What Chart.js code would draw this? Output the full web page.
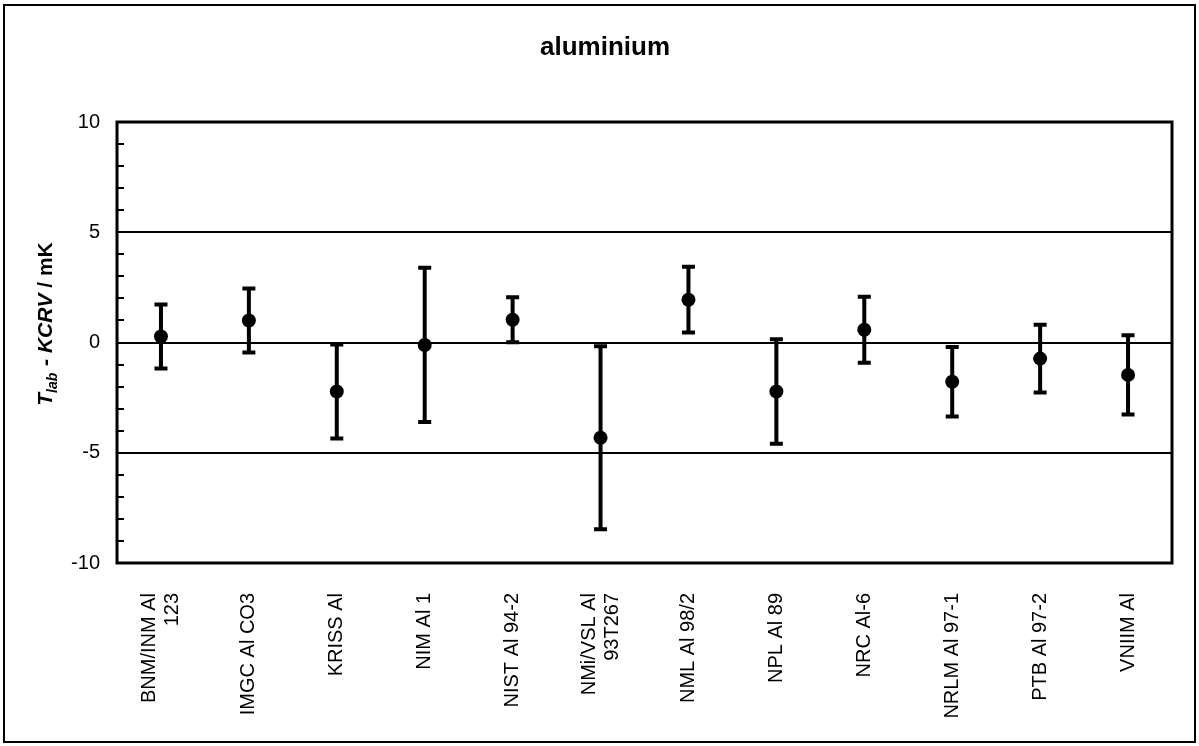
<!DOCTYPE html>
<html>
<head>
<meta charset="utf-8">
<script src="https://cdn.jsdelivr.net/npm/chart.js@4.4.1/dist/chart.umd.min.js"></script>
<style>
  html, body { margin: 0; padding: 0; background: #fff; }
  #wrap { width: 1199px; height: 746px; position: relative; }
</style>
</head>
<body>
<div id="wrap"><canvas id="c" width="1199" height="746"></canvas></div>
<script>
// ---- data ----
const chartTitle = 'aluminium';
const labs = [
  ['BNM/INM Al', '123'], 'IMGC Al CO3', 'KRISS Al', 'NIM Al 1', 'NIST Al 94-2',
  ['NMi/VSL Al', '93T267'], 'NML Al 98/2', 'NPL Al 89', 'NRC Al-6',
  'NRLM Al 97-1', 'PTB Al 97-2', 'VNIIM Al'
];
const diffs = [0.27, 1.0, -2.22, -0.11, 1.03, -4.32, 1.94, -2.22, 0.58, -1.78, -0.73, -1.47];
const uncert = [1.45, 1.45, 2.13, 3.5, 1.02, 4.15, 1.49, 2.37, 1.5, 1.58, 1.54, 1.8];
const yTickValues = [-10, -5, 0, 5, 10];

const FONT = '"Liberation Sans", Arial, sans-serif';

const framePlugin = {
  id: 'frame',
  beforeDatasetsDraw(chart) {
    const ctx = chart.ctx, ys = chart.scales.y, xs = chart.scales.x;
    ctx.save();
    ctx.strokeStyle = '#000';
    ctx.lineWidth = 4;
    ctx.lineCap = 'butt';
    for (let i = 0; i < diffs.length; i++) {
      const x = xs.getPixelForValue(i);
      const yt = ys.getPixelForValue(diffs[i] + uncert[i]);
      const yb = ys.getPixelForValue(diffs[i] - uncert[i]);
      ctx.beginPath();
      ctx.moveTo(x, yt); ctx.lineTo(x, yb);
      ctx.moveTo(x - 6.5, yt); ctx.lineTo(x + 6.5, yt);
      ctx.moveTo(x - 6.5, yb); ctx.lineTo(x + 6.5, yb);
      ctx.stroke();
    }
    ctx.restore();
  },
  afterDraw(chart) {
    const ctx = chart.ctx, a = chart.chartArea, ys = chart.scales.y, xs = chart.scales.x;
    ctx.save();
    ctx.strokeStyle = '#000';
    ctx.lineWidth = 2;
    for (let v = ys.min; v <= ys.max; v += 1) {
      const y = Math.round(ys.getPixelForValue(v));
      ctx.beginPath();
      ctx.moveTo(a.left, y); ctx.lineTo(a.left + 7, y);
      ctx.stroke();
    }
    ctx.lineWidth = 3;
    ctx.strokeRect(a.left, a.top, a.right - a.left, a.bottom - a.top);
    ctx.lineWidth = 2;
    ctx.strokeRect(4, 5, 1191, 737);
    ctx.fillStyle = '#000';
    ctx.font = 'bold 26px ' + FONT;
    ctx.textAlign = 'center';
    ctx.textBaseline = 'middle';
    ctx.fillText(chartTitle, 605, 48);
    ctx.font = '20px ' + FONT;
    const lh = 23;
    for (let i = 0; i < labs.length; i++) {
      const lines = Array.isArray(labs[i]) ? labs[i] : [labs[i]];
      const x = xs.getPixelForValue(i);
      ctx.save();
      ctx.translate(x, a.bottom + 30);
      ctx.rotate(-Math.PI / 2);
      ctx.textAlign = 'right';
      ctx.textBaseline = 'middle';
      const n = lines.length;
      lines.forEach((t, k) => {
        ctx.fillText(t, 0, (k - (n - 1) / 2) * lh);
      });
      ctx.restore();
    }
    // y axis title: T_lab - KCRV / mK
    const big = 'italic bold 21px ' + FONT;
    const upright = 'bold 21px ' + FONT;
    const small = 'italic bold 14px ' + FONT;
    const parts = [
      { t: 'T', f: big, dy: 7 },
      { t: 'lab', f: small, dy: 12, extra: 1 },
      { t: ' - KCRV ', f: big, dy: 7 },
      { t: '/ mK', f: upright, dy: 7 }
    ];
    let total = 0;
    parts.forEach(p => { ctx.font = p.f; p.w = ctx.measureText(p.t).width + (p.extra || 0); total += p.w; });
    ctx.translate(45, 324);
    ctx.rotate(-Math.PI / 2);
    ctx.textAlign = 'left';
    ctx.textBaseline = 'alphabetic';
    let cx = -total / 2;
    parts.forEach(p => { ctx.font = p.f; ctx.fillText(p.t, cx, p.dy); cx += p.w; });
    ctx.restore();
  }
};

new Chart(document.getElementById('c'), {
  type: 'line',
  data: {
    labels: labs.map(l => Array.isArray(l) ? l.join(' ') : l),
    datasets: [{
      data: diffs,
      showLine: false,
      pointRadius: 7,
      pointHoverRadius: 7,
      pointBackgroundColor: '#000',
      pointBorderColor: '#000',
      pointBorderWidth: 0
    }]
  },
  options: {
    responsive: false,
    animation: false,
    events: [],
    layout: { padding: { top: 122, right: 27, bottom: 183, left: 0 } },
    plugins: { legend: { display: false }, title: { display: false }, tooltip: { enabled: false } },
    scales: {
      x: {
        type: 'category',
        offset: true,
        grid: { display: false, drawTicks: false },
        border: { display: false },
        ticks: { display: false }
      },
      y: {
        min: -10, max: 10,
        afterFit(scale) { scale.width = 117; },
        afterBuildTicks(scale) { scale.ticks = yTickValues.map(v => ({ value: v })); },
        grid: {
          drawTicks: false,
          lineWidth: 2,
          color: c => (c.tick && Math.abs(c.tick.value) === 10) ? 'rgba(0,0,0,0)' : '#000'
        },
        border: { display: false },
        ticks: {
          padding: 17,
          color: '#000',
          font: { family: FONT, size: 20 }
        }
      }
    }
  },
  plugins: [framePlugin]
});
</script>
</body>
</html>
